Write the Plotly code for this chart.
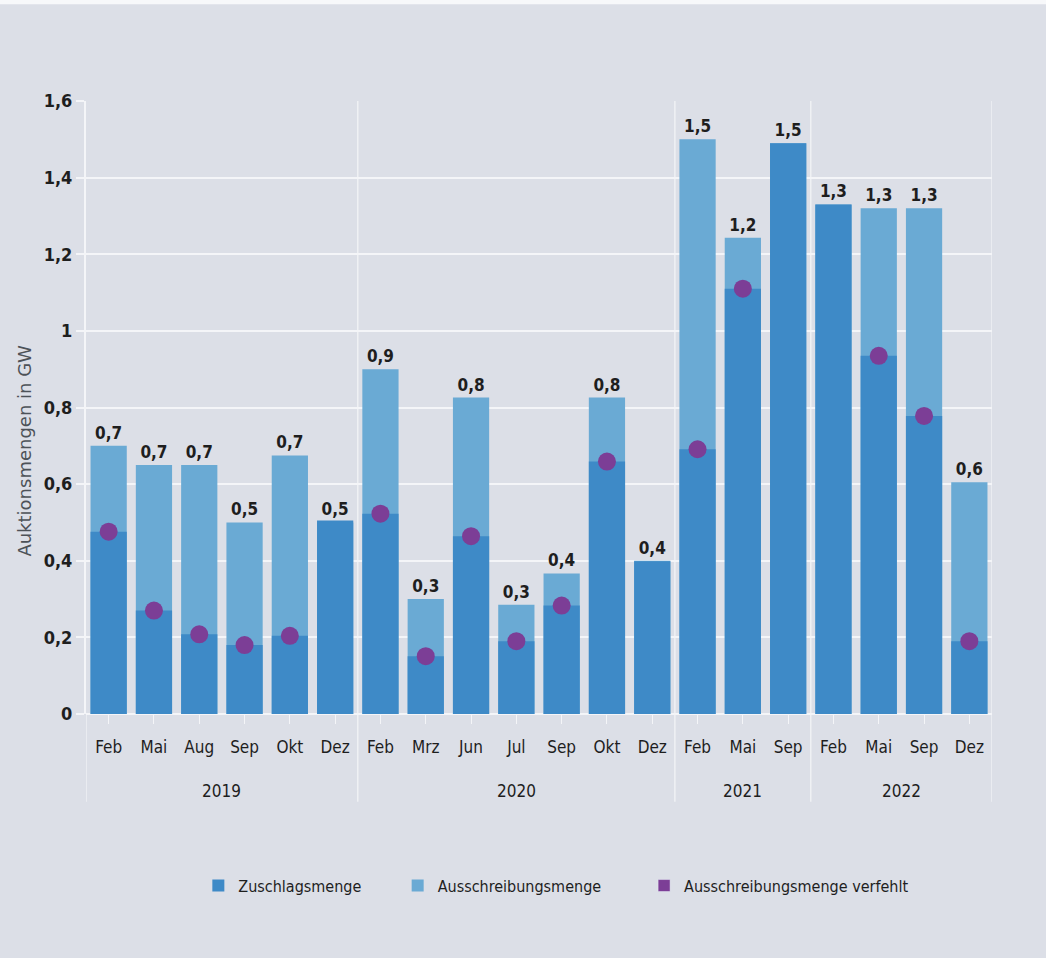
import plotly.graph_objects as go

# Auction rounds (month, year)
months = ["Feb", "Mai", "Aug", "Sep", "Okt", "Dez",
          "Feb", "Mrz", "Jun", "Jul", "Sep", "Okt", "Dez",
          "Feb", "Mai", "Sep",
          "Feb", "Mai", "Sep", "Dez"]
years = ["2019"] * 6 + ["2020"] * 7 + ["2021"] * 3 + ["2022"] * 4

# Tendered volume (GW)
ausschreibung = [0.70, 0.65, 0.65, 0.50, 0.675, 0.50,
                 0.90, 0.30, 0.826, 0.285, 0.367, 0.826, 0.40,
                 1.50, 1.243, 1.49,
                 1.33, 1.32, 1.32, 0.605]
# Awarded volume (GW)
zuschlag = [0.476, 0.270, 0.208, 0.180, 0.204, 0.505,
            0.523, 0.151, 0.464, 0.190, 0.283, 0.659, 0.399,
            0.691, 1.110, 1.49,
            1.33, 0.935, 0.778, 0.190]

y_ticks = [0, 0.2, 0.4, 0.6, 0.8, 1.0, 1.2, 1.4, 1.6]

DARK = "#3e8ac7"
LIGHT = "#6aaad4"
PURPLE = "#7c3e96"
BG = "#dcdfe7"
GRID = "#f4f5f8"
FONT = "DejaVu Sans Condensed, Liberation Sans Narrow, sans-serif"
INK = "#1e1e1e"

xs = list(range(len(months)))
missed_x = [x for x, a, z in zip(xs, ausschreibung, zuschlag) if z < a - 0.005]
missed_y = [z for a, z in zip(ausschreibung, zuschlag) if z < a - 0.005]

fig = go.Figure()
fig.add_trace(go.Bar(
    x=xs, y=ausschreibung, name="Ausschreibungsmenge", legend="legend2",
    marker=dict(color=LIGHT, line=dict(width=0)), width=0.8,
    text=[f"{v:.1f}".replace(".", ",") for v in ausschreibung],
    textposition="outside", cliponaxis=False,
    textfont=dict(family=FONT, size=17, color=INK, weight="bold"),
))
fig.add_trace(go.Bar(
    x=xs, y=zuschlag, name="Zuschlagsmenge", legend="legend",
    marker=dict(color=DARK, line=dict(width=0)), width=0.8,
))
fig.add_trace(go.Scatter(
    x=missed_x, y=missed_y, mode="markers", showlegend=False,
    marker=dict(color=PURPLE, size=18, symbol="circle"),
    cliponaxis=False,
))
# square legend key for the missed-volume markers
fig.add_trace(go.Bar(
    x=[None], y=[None], name="Ausschreibungsmenge verfehlt", legend="legend3",
    marker=dict(color=PURPLE),
))

# year groups: label centres and dividers
groups = []
for i, yr in enumerate(years):
    if not groups or groups[-1][0] != yr:
        groups.append([yr, i, i])
    else:
        groups[-1][2] = i

shapes = []
annotations = []
for yr, start, end in groups:
    annotations.append(dict(
        x=(start + end) / 2, y=-0.125, xref="x", yref="paper",
        yanchor="middle", xanchor="center",
        text=yr, showarrow=False,
        font=dict(family=FONT, size=17, color=INK),
    ))
bounds = [g[1] - 0.5 for g in groups] + [groups[-1][2] + 0.5]
for k, b in enumerate(bounds):
    shapes.append(dict(
        type="line", xref="x", yref="paper", x0=b, x1=b,
        y0=-0.143, y1=0 if k == 0 else 1,
        line=dict(color=GRID, width=1.2), layer="below",
    ))
# thin light band along the top edge
shapes.append(dict(
    type="rect", xref="paper", yref="paper", x0=-0.1, x1=1.1,
    y0=1.158, y1=1.17, fillcolor="#f7f8fa", line=dict(width=0), layer="above",
))

annotations.append(dict(
    x=-0.082, y=0.43, xref="paper", yref="paper",
    text="Auktionsmengen in GW", textangle=-90, showarrow=False,
    font=dict(family="DejaVu Sans, Verdana, sans-serif", size=18, color="#4d5258"),
))

legend_style = dict(
    orientation="h", xanchor="left", y=-0.28, yanchor="middle",
    font=dict(family=FONT, size=16, color=INK),
    itemwidth=30, bgcolor="rgba(0,0,0,0)",
)

fig.update_layout(
    width=1046, height=958,
    paper_bgcolor=BG, plot_bgcolor=BG,
    barmode="overlay", bargap=0.2,
    separators=",.",
    margin=dict(l=86, r=54, t=101, b=244),
    showlegend=True,
    legend=dict(x=0.124, **legend_style),
    legend2=dict(x=0.344, **legend_style),
    legend3=dict(x=0.616, **legend_style),
    xaxis=dict(
        range=[-0.5, len(months) - 0.5],
        tickmode="array", tickvals=xs, ticktext=months,
        ticks="outside", ticklen=9, tickcolor=GRID, tickwidth=1.2,
        ticklabelstandoff=9,
        showgrid=False, zeroline=False, showline=False,
        tickfont=dict(family=FONT, size=17, color=INK),
    ),
    yaxis=dict(
        range=[0, 1.6], tickvals=y_ticks,
        ticks="outside", ticklen=8, tickcolor=GRID, tickwidth=1.5,
        showgrid=True, gridcolor=GRID, gridwidth=2,
        zeroline=True, zerolinecolor=GRID, zerolinewidth=2,
        showline=True, linecolor=GRID, linewidth=2,
        tickfont=dict(family=FONT, size=18, color=INK, weight="bold"),
    ),
    shapes=shapes, annotations=annotations,
)

fig.write_html("out.html")
